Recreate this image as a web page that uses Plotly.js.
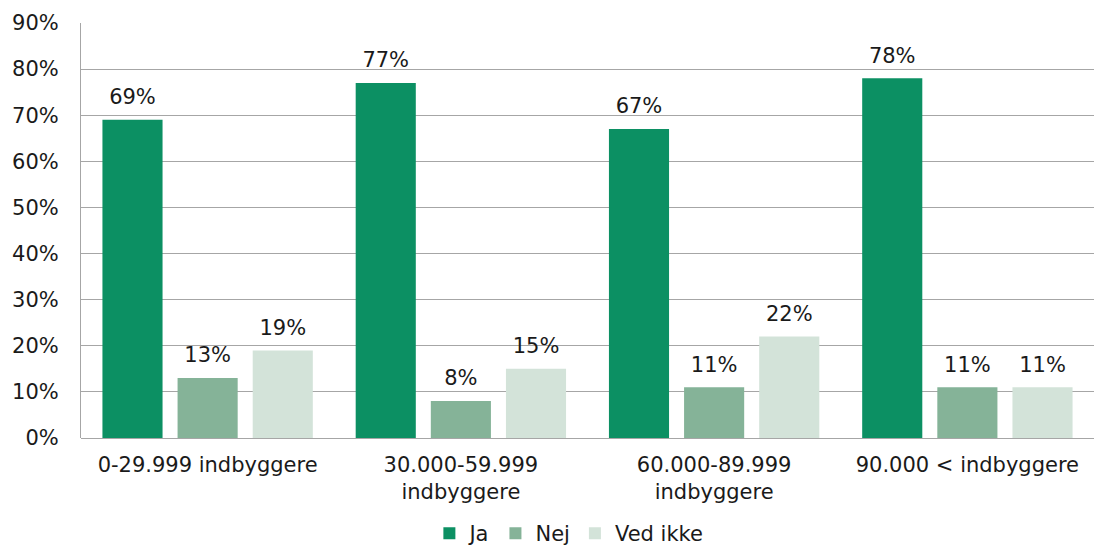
<!DOCTYPE html>
<html>
<head>
<meta charset="utf-8">
<script src="https://cdn.plot.ly/plotly-3.0.1.min.js"></script>
<style>html,body{margin:0;padding:0;background:#fff;}#chart{width:1094px;height:554px;}</style>
</head>
<body>
<div id="chart"></div>
<script>
const categories = ["0-29.999 indbyggere", "30.000-59.999<br>indbyggere", "60.000-89.999<br>indbyggere", "90.000 < indbyggere"];
const seriesNames = ["Ja", "Nej", "Ved ikke"];
const ja = [69, 77, 67, 78];
const nej = [13, 8, 11, 11];
const vedIkke = [19, 15, 22, 11];
const colors = ["#0c9063", "#85b398", "#d3e3d9"];
const tickVals = [0, 10, 20, 30, 40, 50, 60, 70, 80, 90];
const tickText = tickVals.map(v => v + "%");

const font = {family: "Verdana, 'DejaVu Sans', sans-serif", size: 21, color: "#1a1a1a"};
const allSeries = [ja, nej, vedIkke];
const bars = allSeries.map((vals, i) => ({
  type: "bar",
  name: seriesNames[i],
  x: categories,
  y: vals,
  marker: {color: colors[i]},
  offsetgroup: "g" + i,
  hoverinfo: "skip"
}));
const labels = allSeries.map((vals, i) => ({
  type: "scatter",
  mode: "markers+text",
  x: categories,
  y: vals,
  offsetgroup: "g" + i,
  marker: {size: 15, opacity: 0, color: colors[i]},
  text: vals.map(v => v + "%"),
  textposition: "top center",
  textfont: font,
  cliponaxis: false,
  showlegend: false,
  hoverinfo: "skip"
}));

const layout = {
  width: 1094, height: 554,
  margin: {l: 81, r: 0, t: 23, b: 116},
  paper_bgcolor: "#fff", plot_bgcolor: "#fff",
  font: font,
  barmode: "group",
  scattermode: "group",
  bargap: 0.11,
  scattergap: 0.11,
  bargroupgap: 0.2,
  showlegend: true,
  legend: {orientation: "h", xref: "container", yref: "container", x: 0.52, xanchor: "center", y: -0.012, yanchor: "bottom", font: font, traceorder: "normal"},
  xaxis: {
    type: "category", showgrid: false, zeroline: false, showline: false, automargin: false,
    ticks: "", tickfont: font, ticklabelstandoff: 12
  },
  yaxis: {
    range: [0, 90], tickvals: tickVals, ticktext: tickText, automargin: false,
    showgrid: true, gridcolor: "#a6a6a6", gridwidth: 1,
    zeroline: true, zerolinecolor: "#a6a6a6", zerolinewidth: 1,
    showline: true, linecolor: "#a6a6a6", linewidth: 1,
    ticks: "", tickfont: font, ticklabelstandoff: 17
  }
};
Plotly.newPlot("chart", bars.concat(labels), layout, {staticPlot: true});
</script>
</body>
</html>
